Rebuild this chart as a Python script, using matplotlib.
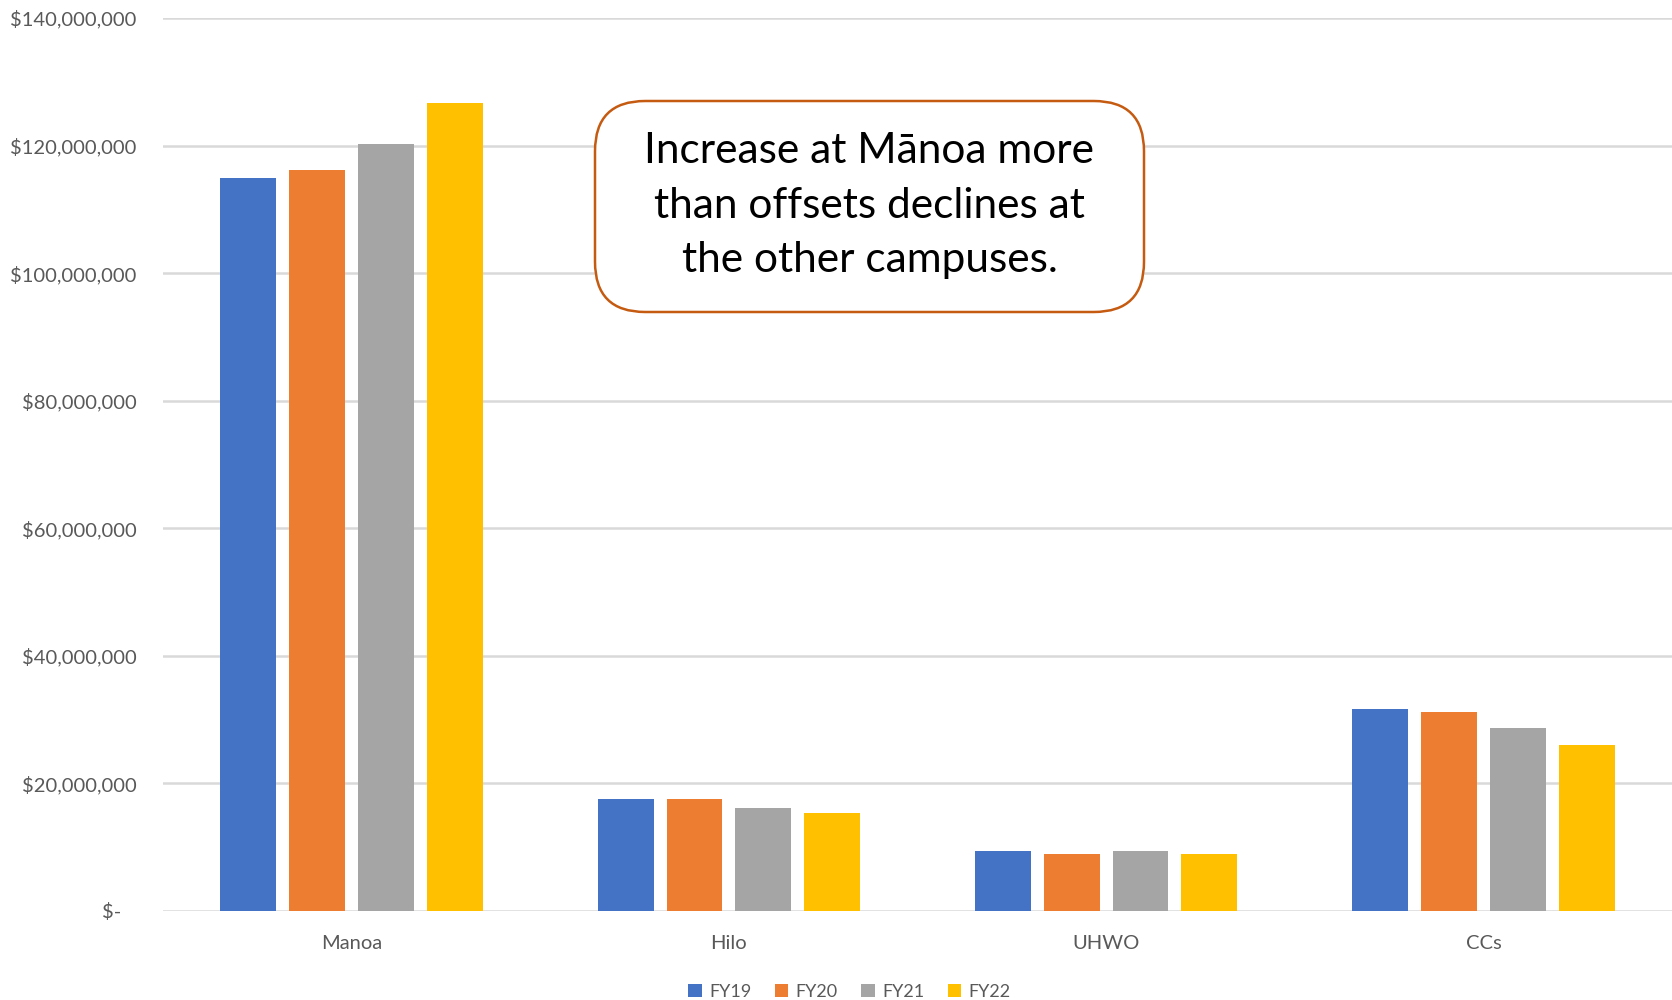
import matplotlib.pyplot as plt
import numpy as np
from matplotlib.patches import FancyBboxPatch

plt.rcParams["font.family"] = ["Lato", "DejaVu Sans"]

campuses = ["Manoa", "Hilo", "UHWO", "CCs"]
years = ["FY19", "FY20", "FY21", "FY22"]
fy19 = [114.9e6, 17.5e6, 9.4e6, 31.6e6]
fy20 = [116.1e6, 17.5e6, 9.0e6, 31.2e6]
fy21 = [120.3e6, 16.2e6, 9.4e6, 28.7e6]
fy22 = [126.6e6, 15.4e6, 9.0e6, 26.1e6]
y_ticks = [0, 20e6, 40e6, 60e6, 80e6, 100e6, 120e6, 140e6]
y_tick_labels = ["$-   ", "$20,000,000", "$40,000,000", "$60,000,000",
                 "$80,000,000", "$100,000,000", "$120,000,000", "$140,000,000"]
note = "Increase at Mānoa more\nthan offsets declines at\nthe other campuses."

colors = ["#4472C4", "#ED7D31", "#A5A5A5", "#FFC000"]
text_gray = "#595959"

fig = plt.figure(figsize=(16.72, 10), dpi=100)
ax = fig.add_axes([0.0975, 0.089, 0.9025, 0.893])

x = np.arange(len(campuses))
step = 0.1825
width = 0.148
series = [fy19, fy20, fy21, fy22]
for i, (vals, name) in enumerate(zip(series, years)):
    ax.bar(x + (i - 1.5) * step, vals, width, color=colors[i], label=name,
           zorder=3)

ax.set_xlim(-0.5, len(campuses) - 0.5)
ax.set_ylim(0, 140e6)
ax.set_yticks(y_ticks)
ax.set_yticklabels(y_tick_labels)
ax.set_xticks(x)
ax.set_xticklabels(campuses)
ax.tick_params(axis="both", length=0, labelsize=14.5, labelcolor=text_gray)
ax.tick_params(axis="y", pad=19)
ax.tick_params(axis="x", pad=17)
ax.yaxis.grid(True, color="#D9D9D9", linewidth=1.8, zorder=0)
ax.set_axisbelow(True)
for s in ax.spines.values():
    s.set_visible(False)

# callout box (figure pixel coords converted to fraction)
bx0, by0, bx1, by1 = 595 / 1672, 1 - 312 / 1000, 1144 / 1672, 1 - 101 / 1000
box = FancyBboxPatch((bx0, by0), bx1 - bx0, by1 - by0,
                     boxstyle="round,pad=0,rounding_size=0.03",
                     transform=fig.transFigure, facecolor="white",
                     edgecolor="#C55A11", linewidth=1.8, zorder=5,
                     mutation_aspect=1672 / 1000)
fig.patches.append(box)
fig.text((bx0 + bx1) / 2, (by0 + by1) / 2 + 0.001, note, ha="center",
         va="center", fontsize=30.5, color="black", linespacing=1.52, zorder=6)

fig.legend(loc="center", bbox_to_anchor=(0.508, 0.008), ncol=4, frameon=False,
           fontsize=13, handlelength=0.75, handleheight=0.75,
           handletextpad=0.4, columnspacing=1.3, labelcolor=text_gray)

fig.savefig("out.png", dpi=100)
